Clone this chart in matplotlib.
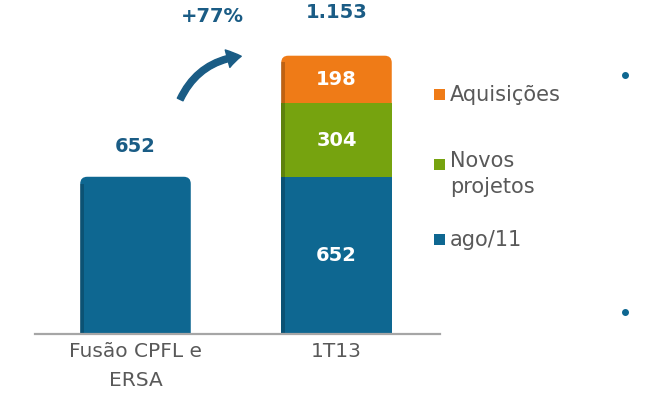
import matplotlib.pyplot as plt
from matplotlib.patches import FancyBboxPatch, Rectangle
from matplotlib.lines import Line2D

# data
categories = ['Fusão CPFL e\nERSA', '1T13']
ago11 = [652, 652]
novos = [0, 304]
aquis = [0, 198]
totals = [652, 1153]
legend_labels = ['Aquisições', 'Novos\nprojetos', 'ago/11']

blue = '#0E6791'
green = '#76A30F'
orange = '#EF7B17'
dark = '#1A5C85'
gray = '#595959'

fig = plt.figure(figsize=(6.45, 4.18), dpi=100)
ax = fig.add_axes([35 / 645, 84 / 418, 405 / 645, 334 / 418])
ax.set_xlim(-0.5, 1.515)
ax.set_ylim(0, 1385)

x = [0, 1]
w = 0.55

# x units -> px ~201, y units -> px ~0.241
rs = 0.035
aspect = 201 / 0.2411


def edge(xc, y0, h):
    # darker left edge for the 3d look
    ax.add_patch(Rectangle((xc - w / 2, y0), 0.018, h, fc='black',
                           alpha=0.2, ec='none', zorder=3))


for i in range(len(x)):
    base = 0
    segs = [(ago11[i], blue), (novos[i], green), (aquis[i], orange)]
    segs = [s for s in segs if s[0] > 0]
    for j, (v, c) in enumerate(segs):
        if j == len(segs) - 1:
            p = FancyBboxPatch((x[i] - w / 2, base - 40), w, v + 40,
                               boxstyle='round,pad=0,rounding_size=%f' % rs,
                               mutation_aspect=aspect, fc=c, ec='none', zorder=1)
            ax.add_patch(p)
            edge(x[i], base, v - 28)
        else:
            ax.bar(x[i], v, w, bottom=base, color=c, zorder=2)
            edge(x[i], base, v)
        if len(segs) > 1:
            ax.text(x[i], base + v / 2, f'{v}', ha='center', va='center',
                    color='white', fontsize=14, fontweight='bold', zorder=4)
        base += v

# totals above bars
ax.annotate(f'{totals[0]}', (x[0], totals[0]), xytext=(0, 22),
            textcoords='offset points', ha='center', va='center',
            fontsize=14, fontweight='bold', color=dark)
ax.annotate(f'{totals[1] // 1000}.{totals[1] % 1000:03d}', (x[1], totals[1]),
            xytext=(0, 31), textcoords='offset points', ha='center',
            va='center', fontsize=14, fontweight='bold', color=dark)

growth = round((totals[1] / totals[0] - 1) * 100)
fig.text(212 / 645, 1 - 17 / 418, f'+{growth}%', ha='center', va='center',
         fontsize=14, fontweight='bold', color=dark)

# curved arrow
ax.annotate('', xy=(244, 418 - 56), xycoords='figure pixels',
            xytext=(179, 418 - 102), textcoords='figure pixels',
            arrowprops=dict(arrowstyle='simple,head_length=1.0,head_width=1.3,tail_width=0.45',
                            connectionstyle='arc3,rad=-0.3', fc=dark, ec=dark))

# axes styling
for s in ['top', 'right', 'left']:
    ax.spines[s].set_visible(False)
ax.spines['bottom'].set_color('#A6A6A6')
ax.spines['bottom'].set_linewidth(1.6)
ax.spines['bottom'].set_zorder(5)
ax.set_yticks([])
ax.set_xticks(x)
ax.set_xticklabels(categories, fontsize=14.5, color=gray, linespacing=1.65)
ax.tick_params(axis='x', length=0, pad=6)

# manual legend
leg_colors = [orange, green, blue]
leg_y = [95, 165, 240]
for lab, c, yy in zip(legend_labels, leg_colors, leg_y):
    fig.patches.append(Rectangle((434 / 645, 1 - (yy + 5) / 418), 11 / 645, 11 / 418,
                                 transform=fig.transFigure, fc=c, ec='none'))
    if '\n' in lab:
        fig.text(450 / 645, 1 - (yy - 14) / 418, lab, ha='left', va='top',
                 fontsize=15, color=gray, linespacing=1.35)
    else:
        fig.text(450 / 645, 1 - yy / 418, lab, ha='left', va='center',
                 fontsize=15, color=gray)

# bullets at right edge
for yy in [75, 312]:
    fig.add_artist(Line2D([625 / 645], [1 - yy / 418], marker='o', markersize=4,
                          color=blue, transform=fig.transFigure))

fig.savefig('out.png', dpi=100)
